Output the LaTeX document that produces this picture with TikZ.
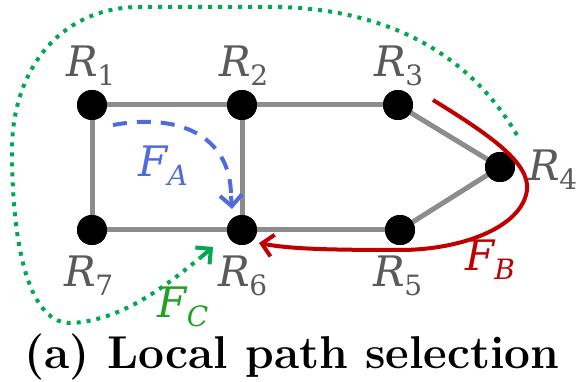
\documentclass[tikz,border=0pt]{standalone}
\usepackage{fontspec}
\newfontfamily\labfont{DejaVu Serif}
\usetikzlibrary{arrows.meta}
\definecolor{edgegray}{HTML}{8C8C8C}
\definecolor{labgray}{HTML}{5A5A5A}
\definecolor{fablue}{HTML}{4F6BDC}
\definecolor{fbred}{HTML}{C00000}
\definecolor{fcgreen}{HTML}{00A84F}
\definecolor{fctext}{HTML}{22A022}
\newcommand{\rl}[2]{\textit{#1}\kern-1pt\raisebox{-9pt}{\fontsize{28}{30}\selectfont #2}}
\begin{document}
\begin{tikzpicture}[x=1pt,y=-1pt,
  router/.style={circle,fill=black,inner sep=0pt,minimum size=30pt},
  link/.style={draw=edgegray,line width=5pt},
  rlab/.style={text=labgray,font=\labfont\fontsize{42}{46}\selectfont,inner sep=0pt},
  flab/.style={font=\labfont\fontsize{42}{46}\selectfont,inner sep=0pt},
  barb/.style={-{Straight Barb[length=11pt,width=22pt]}}
]
\useasboundingbox (0,0) rectangle (576,382);
% routers (positions)
\node[router] (r1) at (92,105) {};
\node[router] (r2) at (242,105) {};
\node[router] (r3) at (398,105) {};
\node[router] (r4) at (500,167) {};
\node[router] (r5) at (400,230) {};
\node[router] (r6) at (242,230) {};
\node[router] (r7) at (92,230) {};
% links
\draw[link] (r1.center) -- (r2.center);
\draw[link] (r2.center) -- (r3.center);
\draw[link] (r3.center) -- (r4.center);
\draw[link] (r4.center) -- (r5.center);
\draw[link] (r5.center) -- (r6.center);
\draw[link] (r6.center) -- (r7.center);
\draw[link] (r7.center) -- (r1.center);
\draw[link] (r2.center) -- (r6.center);
% routers on top of links
\foreach \n in {r1,r2,r3,r4,r5,r6,r7}
  \fill[black] (\n.center) circle (15pt);
% labels
\node[rlab] (l1) at (91,66) {\rl{R}{1}};
\node[rlab] (l2) at (244,66) {\rl{R}{2}};
\node[rlab] (l3) at (399,66) {\rl{R}{3}};
\node[rlab] (l4) at (553,170) {\rl{R}{4}};
\node[rlab] (l5) at (398,276) {\rl{R}{5}};
\node[rlab] (l6) at (243,276) {\rl{R}{6}};
\node[rlab] (l7) at (89,276) {\rl{R}{7}};
% flow A
\coordinate (fa0) at (113,125);
\coordinate (fa1) at (231,196);
\coordinate (fa2) at (232,209);
\draw[fablue,line width=4pt,dash pattern=on 14pt off 10pt] (fa0) .. controls (185,112) and (231,140) .. (fa1);
\draw[fablue,line width=4pt,barb] (fa1) -- (fa2);
\node[flab,text=fablue] (fal) at (163,166) {\rl{F}{\textit{A}}};
% flow B
\coordinate (fb0) at (433,100);
\coordinate (fb1) at (527,190);
\coordinate (fb2) at (400,250);
\coordinate (fb3) at (259,243);
\draw[fbred,line width=4pt,barb] (fb0) .. controls (490,135) and (530,163) .. (fb1)
  .. controls (522,228) and (460,250) .. (fb2)
  .. controls (330,250) and (290,249) .. (fb3);
\node[flab,text=fbred] (fbl) at (490,260) {\rl{F}{\textit{B}}};
% flow C
\coordinate (fc0) at (517,135);
\coordinate (fc1) at (280,7);
\coordinate (fc2) at (140,7);
\coordinate (fc3) at (12,150);
\coordinate (fc4) at (72,323);
\coordinate (fc5) at (200,258);
\coordinate (fc6) at (213,247);
\draw[fcgreen,line width=4pt,dash pattern=on 4pt off 6pt]
  (fc0) .. controls (470,55) and (390,10) .. (fc1) -- (fc2)
  .. controls (60,7) and (12,70) .. (fc3)
  .. controls (12,250) and (30,325) .. (fc4)
  .. controls (125,320) and (170,282) .. (fc5);
\draw[fcgreen,line width=4pt,barb] (fc5) -- (fc6);
\node[flab,text=fctext] (fcl) at (183,307) {\rl{F}{\textit{C}}};
% caption
\node[font=\fontsize{46}{50}\selectfont\bfseries,inner sep=0pt] (cap) at (292,357) {(a) Local path selection};
\end{tikzpicture}
\end{document}
